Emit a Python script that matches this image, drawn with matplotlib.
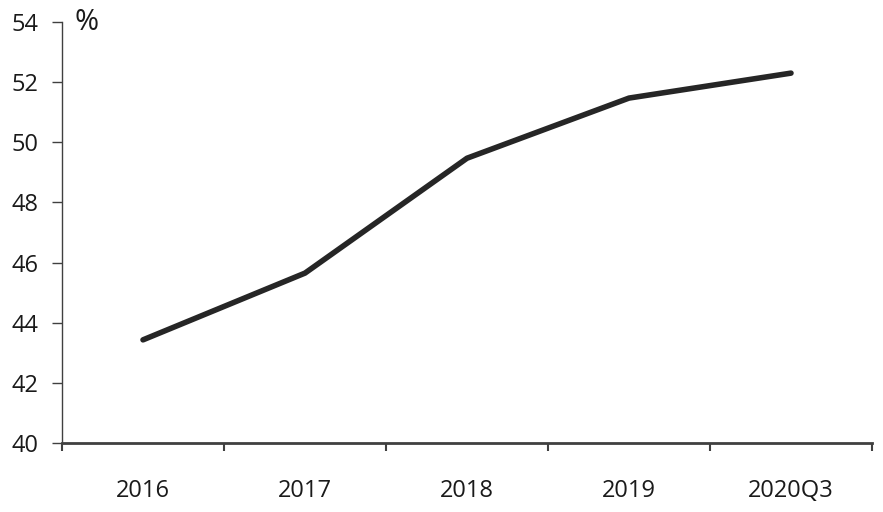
import matplotlib
matplotlib.use("Agg")
import matplotlib.pyplot as plt
import numpy as np

categories = ["2016", "2017", "2018", "2019", "2020Q3"]
values = [43.43, 45.65, 49.47, 51.47, 52.30]
yticks = [40, 42, 44, 46, 48, 50, 52, 54]

plt.rcParams['font.family'] = ['Open Sans', 'DejaVu Sans']

fig = plt.figure(figsize=(8.83, 5.12), dpi=100)
ax = fig.add_axes([62/883, 69/512, (872-62)/883, (443-22)/512])

x = np.arange(len(categories))
ax.plot(x, values, color='#262626', lw=4, solid_capstyle='round', solid_joinstyle='round')

ax.set_xlim(-0.5, len(categories) - 0.5)
ax.set_ylim(40, 54)
ax.set_yticks(yticks)
ax.set_yticklabels([str(v) for v in yticks])

ax.set_xticks(np.arange(-0.5, len(categories), 1.0))
ax.set_xticklabels([])
ax.set_xticks(x, minor=True)
ax.set_xticklabels(categories, minor=True)

axis_color = '#404040'
for s in ['top', 'right']:
    ax.spines[s].set_visible(False)
ax.spines['left'].set_color(axis_color)
ax.spines['left'].set_linewidth(1.0)
ax.spines['bottom'].set_color(axis_color)
ax.spines['bottom'].set_linewidth(2.0)

ax.tick_params(axis='y', which='major', direction='out', length=7, width=1, color=axis_color,
               pad=10, labelsize=17, labelcolor='#1a1a1a')
ax.tick_params(axis='x', which='major', direction='out', length=6, width=1.5, color=axis_color)
ax.tick_params(axis='x', which='minor', length=0, pad=26, labelsize=17, labelcolor='#1a1a1a')

ax.text(74/883, 1 - 22/512, '%', transform=fig.transFigure, ha='left', va='center', fontsize=21, color='#1a1a1a')

fig.savefig('out.png', dpi=100)
